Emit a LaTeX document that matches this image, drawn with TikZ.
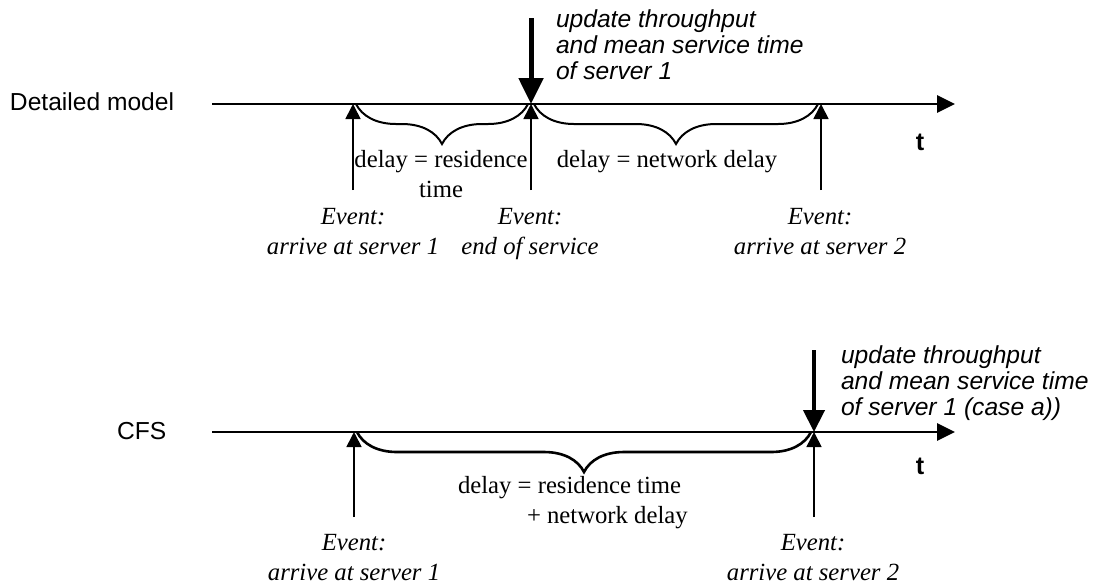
\documentclass[tikz,border=0pt]{standalone}
\usepackage{fontspec}
\setmainfont{Liberation Serif}
\setsansfont{Liberation Sans}
\usetikzlibrary{arrows.meta,decorations.pathreplacing}

% multi-line labels whose reference point is the first baseline
\newcommand\linesl[1]{\begin{tabular}[t]{@{}l@{}}#1\end{tabular}}
\newcommand\linesc[1]{\begin{tabular}[t]{@{}c@{}}#1\end{tabular}}

\begin{document}
\begin{tikzpicture}[x=0.5pt,y=-0.5pt,
  every node/.style={inner sep=0pt,outer sep=0pt},
  modellabel/.style={font=\sffamily\fontsize{12.3}{13}\selectfont,anchor=base west},
  timelabel/.style={font=\sffamily\bfseries\fontsize{12.6}{13}\selectfont,anchor=base},
  updatenote/.style={font=\sffamily\itshape\fontsize{12.3}{13}\selectfont,anchor=base west},
  eventlabel/.style={font=\rmfamily\itshape\fontsize{12.35}{15}\selectfont,anchor=base},
  delaylabel/.style={font=\rmfamily\fontsize{12.35}{15}\selectfont,anchor=base},
  timeline/.style={line width=1.4pt,-{Triangle[length=9pt,width=8.5pt]}},
  eventarrow/.style={line width=0.85pt,-{Triangle[length=7.5pt,width=7.5pt]}},
  updatearrow/.style={line width=2.5pt,-{Triangle[length=13pt,width=12pt]}},
  updatearrowb/.style={line width=2.1pt,-{Triangle[length=11pt,width=10.5pt]}},
  delaybrace/.style={line width=1pt,decorate,decoration={brace,mirror,amplitude=20pt}},
  delaybraceb/.style={line width=1.3pt,decorate,decoration={brace,mirror,amplitude=20pt}}
]
\useasboundingbox (0,0) rectangle (1101,585);

% ---------------- detailed model ----------------
\coordinate (ts) at (212,104);
\coordinate (te) at (955,104);
\coordinate (e1t) at (353,104);  \coordinate (e1b) at (353,190);
\coordinate (e2t) at (531,104);  \coordinate (e2b) at (531,190);
\coordinate (e3t) at (821,104);  \coordinate (e3b) at (821,190);
\coordinate (u1s) at (531,18);
\coordinate (br1a) at (356,104); \coordinate (br1b) at (528,104);
\coordinate (br2a) at (534,104); \coordinate (br2b) at (818,104);

\node[modellabel] (detailed) at (10,110) {Detailed model};
\draw[timeline] (ts) -- (te);
\node[timelabel] (t1) at (920,150) {t};

\draw[delaybrace] (br1a) -- (br1b);
\draw[delaybrace] (br2a) -- (br2b);
\draw[eventarrow] (e1b) -- (e1t);
\draw[eventarrow] (e2b) -- (e2t);
\draw[eventarrow] (e3b) -- (e3t);
\draw[updatearrow] (u1s) -- (e2t);

\node[updatenote] (upd1) at (556,27)
  {\linesl{update throughput\\and mean service time\\of server 1}};
\node[delaylabel] (d1) at (441,167) {\linesc{delay = residence\\time}};
\node[delaylabel] (d2) at (667,167) {delay = network delay};
\node[eventlabel] (ev1) at (353,224) {\linesc{Event:\\arrive at server 1}};
\node[eventlabel] (ev2) at (530,224) {\linesc{Event:\\end of service}};
\node[eventlabel] (ev3) at (820,224) {\linesc{Event:\\arrive at server 2}};

% ---------------- CFS ----------------
\coordinate (cs) at (212,432);
\coordinate (ce) at (955,432);
\coordinate (f1t) at (354,432);  \coordinate (f1b) at (354,517);
\coordinate (f2t) at (814,432);  \coordinate (f2b) at (814,517);
\coordinate (u2s) at (814,350);
\coordinate (br3a) at (357,432); \coordinate (br3b) at (811,432);

\node[modellabel] (cfs) at (117,439) {CFS};
\draw[timeline] (cs) -- (ce);
\node[timelabel] (t2) at (920,474) {t};

\draw[delaybraceb] (br3a) -- (br3b);
\draw[eventarrow] (f1b) -- (f1t);
\draw[eventarrow] (f2b) -- (f2t);
\draw[updatearrowb] (u2s) -- (f2t);

\node[updatenote] (upd2) at (841,363)
  {\linesl{update throughput\\and mean service time\\of server 1 (case a))}};
\node[delaylabel,anchor=base west] (d3) at (458,493)
  {\linesl{delay = residence time\\\hspace{34.5pt}+ network delay}};
\node[eventlabel] (ev4) at (354,550) {\linesc{Event:\\arrive at server 1}};
\node[eventlabel] (ev5) at (813,550) {\linesc{Event:\\arrive at server 2}};
\end{tikzpicture}
\end{document}
